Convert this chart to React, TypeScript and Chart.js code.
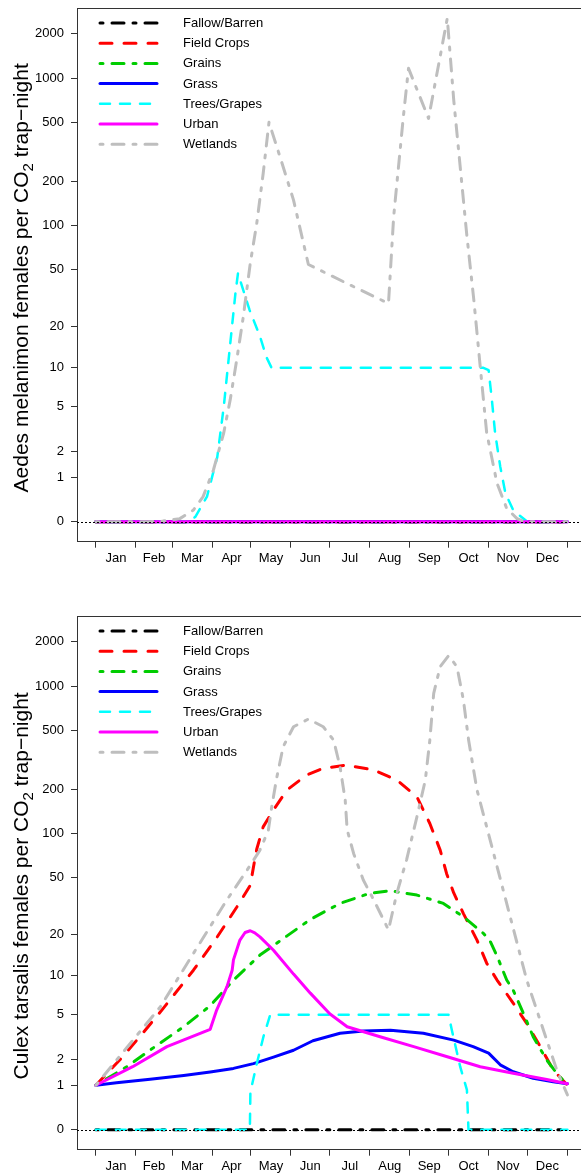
import React, { useEffect, useRef } from 'react';
import { Chart, registerables } from 'chart.js';

Chart.register(...registerables);

const FONT = '"Liberation Sans", Arial, Helvetica, sans-serif';
const AXIS_COLOR = '#333333';

// ---- series meta ----
const SERIES_LABELS = ['Fallow/Barren', 'Field Crops', 'Grains', 'Grass', 'Trees/Grapes', 'Urban', 'Wetlands'];
const SERIES_COLORS = ['#000000', '#FF0000', '#00CD00', '#0000FF', '#00FFFF', '#FF00FF', '#BEBEBE'];
const SERIES_WIDTHS = [3, 3, 3, 3, 2.5, 3, 3];
const SERIES_DASHES = [[3, 9, 12, 9], [12, 12], [3, 9, 12, 9], [], [10, 10], [], [3, 9, 12, 9]];

// ---- axes ----
const MONTHS = ['Jan', 'Feb', 'Mar', 'Apr', 'May', 'Jun', 'Jul', 'Aug', 'Sep', 'Oct', 'Nov', 'Dec'];
const MONTH_STARTS = [0, 31, 59, 90, 120, 151, 181, 212, 243, 273, 304, 334, 365];
const Y_TICK_VALUES = [0, 1, 2, 5, 10, 20, 50, 100, 200, 500, 1000, 2000];

const TOP_TITLE = ['Aedes melanimon females per CO', '2', ' trap\u2212night'];
const BOTTOM_TITLE = ['Culex tarsalis females per CO', '2', ' trap\u2212night'];

// ---- Aedes melanimon (top panel) ----
const aedesFallowDays = [0, 365];
const aedesFallowVals = [0, 0];
const aedesFieldDays = [0, 365];
const aedesFieldVals = [0, 0];
const aedesGrainsDays = [0, 365];
const aedesGrainsVals = [0, 0];
const aedesGrassDays = [0, 365];
const aedesGrassVals = [0, 0];
const aedesTreesDays = [0, 72, 77, 86, 94, 99, 104, 108, 110, 119, 127, 132, 136, 300, 304, 306.5, 309, 313, 317, 323, 328, 334, 365];
const aedesTreesVals = [0, 0, 0.08, 0.48, 1.75, 5.0, 15, 34, 47, 26, 17, 12, 10, 10, 9.6, 5.7, 3.0, 1.36, 0.56, 0.2, 0.1, 0, 0];
const aedesUrbanDays = [0, 365];
const aedesUrbanVals = [0, 0];
const aedesWetDays = [0, 40, 52, 65, 75.5, 83, 91, 99, 104, 109, 114, 119.5, 124.5, 129.5, 134, 142.5, 153, 164.5, 202, 226.5, 230.5, 235.5, 238, 242, 257.5, 272, 277, 282, 287, 292.5, 297.5, 302.5, 310.5, 318, 326, 332, 365];
const aedesWetVals = [0, 0, 0.01, 0.05, 0.2, 0.48, 1.24, 3.0, 5.7, 11.4, 23, 55, 103, 226, 503, 294, 149, 54, 37, 29, 115, 326, 549, 1168, 535, 2547, 712, 251, 88, 31, 10.2, 3.0, 0.82, 0.23, 0.05, 0, 0];

// ---- Culex tarsalis (bottom panel) ----
const culexFallowDays = [0, 365];
const culexFallowVals = [0, 0];
const culexFieldDays = [0, 19, 34, 52, 75.5, 94, 109, 119.5, 122, 124.5, 129.5, 137.5, 148, 163, 176, 194, 215, 233, 248.5, 258.5, 266.5, 271.5, 277, 284.5, 295, 302.5, 310.5, 323, 333.5, 344, 354, 365];
const culexFieldVals = [1, 2.0, 3.26, 5.6, 11, 19.2, 31, 44, 59, 78, 111, 145, 198, 250, 278, 292, 271, 231, 178, 117, 77, 53, 39, 28, 18.2, 12.4, 9.3, 6.2, 4.25, 2.65, 1.54, 1];
const culexGrainsDays = [0, 24, 42, 68, 88.5, 106.5, 127, 148, 166, 189, 212, 228, 248.5, 269, 284.5, 300, 305, 310.5, 318, 323, 331, 338.5, 349, 357, 365];
const culexGrainsVals = [1, 1.67, 2.46, 3.98, 5.9, 9.3, 14.2, 19.5, 25.5, 33, 38.8, 40.4, 37.7, 33, 26.6, 20.3, 18, 14, 9.3, 7.8, 5.1, 3.26, 1.96, 1.4, 1];
const culexGrassDays = [0, 16, 42, 68, 88.5, 106.5, 122, 137.5, 153, 168, 189, 207, 228, 253.5, 277, 292, 304, 313, 323, 338.5, 354, 365];
const culexGrassVals = [1.0, 1.08, 1.2, 1.33, 1.46, 1.6, 1.8, 2.1, 2.45, 3.0, 3.5, 3.65, 3.72, 3.5, 3.04, 2.65, 2.3, 1.75, 1.47, 1.23, 1.11, 1.05];
const culexTreesDays = [0, 119.2, 119.6, 124.6, 129.7, 135, 273, 275.6, 282, 287.2, 288.4, 365];
const culexTreesVals = [0, 0, 0.8, 1.81, 3.26, 5, 5, 3.7, 1.67, 0.86, 0, 0];
const culexUrbanDays = [0, 28.5, 55, 88.5, 93.5, 101.5, 105.5, 106.5, 111.5, 115.5, 119.5, 123, 127, 137.5, 153, 166, 181, 194.5, 220, 246, 272, 297.5, 323, 349, 365];
const culexUrbanVals = [1.0, 1.67, 2.65, 3.78, 5.45, 8.3, 11, 13.1, 18.2, 20.6, 21.2, 20.5, 19.2, 15.4, 10.3, 7.4, 5.1, 3.98, 3.26, 2.65, 2.12, 1.67, 1.41, 1.19, 1.05];
const culexWetDays = [0, 50, 75.5, 101.5, 117, 127, 133.5, 136, 140, 145, 153, 164.5, 176, 184, 189, 193, 194.5, 199.5, 207, 215, 226.5, 233, 240.5, 248.5, 255, 258.5, 261.5, 266.5, 273, 279.5, 284.5, 288.5, 295, 302.5, 333.5, 346.5, 357, 365];
const culexWetVals = [1, 5.8, 14.6, 35, 56, 77, 105, 150, 240, 390, 532, 600, 532, 432, 285, 169, 106, 73, 48, 35, 21.5, 39, 66, 130, 231, 432, 896, 1357, 1610, 1357, 806, 432, 198, 111, 9.3, 3.7, 1.5, 0.72];

const TOP_DAYS = [aedesFallowDays, aedesFieldDays, aedesGrainsDays, aedesGrassDays, aedesTreesDays, aedesUrbanDays, aedesWetDays];
const TOP_VALS = [aedesFallowVals, aedesFieldVals, aedesGrainsVals, aedesGrassVals, aedesTreesVals, aedesUrbanVals, aedesWetVals];
const BOTTOM_DAYS = [culexFallowDays, culexFieldDays, culexGrainsDays, culexGrassDays, culexTreesDays, culexUrbanDays, culexWetDays];
const BOTTOM_VALS = [culexFallowVals, culexFieldVals, culexGrainsVals, culexGrassVals, culexTreesVals, culexUrbanVals, culexWetVals];

const MONTH_MIDS = MONTHS.map((_, i) => (MONTH_STARTS[i] + MONTH_STARTS[i + 1]) / 2);
const tf = (v: number) => Math.log10(v + 1);

const CANVAS_W = 581;
const CANVAS_H = 580;

const decorPlugin = {
  id: 'decor',
  afterDatasetsDraw(chart: any) {
    const { ctx, chartArea: a } = chart;
    const y0 = Math.round(chart.scales.y.getPixelForValue(0)) + 0.5;
    ctx.save();
    ctx.strokeStyle = '#000';
    ctx.lineWidth = 1;
    ctx.setLineDash([2, 2]);
    ctx.beginPath();
    ctx.moveTo(a.left, y0);
    ctx.lineTo(a.right, y0);
    ctx.stroke();
    ctx.restore();
  },
  afterDraw(chart: any, _args: any, opts: any) {
    const { ctx, chartArea: a } = chart;
    ctx.save();
    // top frame
    ctx.strokeStyle = AXIS_COLOR;
    ctx.lineWidth = 1;
    ctx.beginPath();
    ctx.moveTo(a.left, Math.round(a.top) + 0.5);
    ctx.lineTo(a.right, Math.round(a.top) + 0.5);
    ctx.stroke();

    // legend
    chart.data.datasets.forEach((ds: any, i: number) => {
      const y = a.top + 15 + i * 20.2;
      ctx.save();
      ctx.strokeStyle = ds.borderColor;
      ctx.lineWidth = ds.borderWidth;
      ctx.lineCap = 'round';
      ctx.setLineDash(ds.borderDash || []);
      ctx.beginPath();
      ctx.moveTo(a.left + 23, y);
      ctx.lineTo(a.left + 80, y);
      ctx.stroke();
      ctx.restore();
      ctx.fillStyle = '#000';
      ctx.font = '13px ' + FONT;
      ctx.textBaseline = 'middle';
      ctx.textAlign = 'left';
      ctx.fillText(ds.label, a.left + 106, y + 0.5);
    });

    // y title with subscript
    const parts: string[] = opts.title;
    const sizes = [21, 15, 21];
    const shifts = [0, 5, 0];
    let total = 0;
    const widths = parts.map((p, i) => {
      ctx.font = sizes[i] + 'px ' + FONT;
      const w = ctx.measureText(p).width;
      total += w;
      return w;
    });
    const cy = (a.top + a.bottom) / 2 + opts.titleShift;
    ctx.translate(opts.titleX, cy);
    ctx.rotate(-Math.PI / 2);
    ctx.fillStyle = '#000';
    ctx.textBaseline = 'alphabetic';
    ctx.textAlign = 'left';
    let x = -total / 2;
    parts.forEach((p, i) => {
      ctx.font = sizes[i] + 'px ' + FONT;
      ctx.fillText(p, x, shifts[i]);
      x += widths[i];
    });
    ctx.restore();
  },
};

function makeConfig(days: number[][], vals: number[][], title: string[]) {
  const datasets = SERIES_LABELS.map((label, i) => ({
    label,
    data: days[i].map((d, j) => ({ x: d, y: tf(vals[i][j]) })),
    borderColor: SERIES_COLORS[i],
    backgroundColor: SERIES_COLORS[i],
    borderWidth: SERIES_WIDTHS[i],
    borderDash: SERIES_DASHES[i],
    borderCapStyle: 'round',
    borderJoinStyle: 'round',
    pointRadius: 0,
    pointHoverRadius: 0,
    tension: 0,
    fill: false,
    order: SERIES_LABELS.length - i,
  }));
  const allXTicks = [...MONTH_STARTS, ...MONTH_MIDS].sort((p, q) => p - q);
  return {
    type: 'line',
    data: { datasets },
    plugins: [decorPlugin],
    options: {
      responsive: false,
      animation: false,
      events: [],
      layout: { padding: { top: 8, left: 0, right: 0, bottom: 8.3 } },
      plugins: {
        legend: { display: false },
        tooltip: { enabled: false },
        decor: { title, titleX: 28, titleShift: 3 },
      },
      scales: {
        x: {
          type: 'linear',
          min: -14.6,
          max: 375.5,
          afterBuildTicks: (s: any) => {
            s.ticks = allXTicks.map((v) => ({ value: v }));
          },
          afterFit: (s: any) => {
            s.height = 30;
            s.paddingLeft = 0;
            s.paddingRight = 0;
          },
          ticks: {
            autoSkip: false,
            maxRotation: 0,
            padding: 3,
            color: '#000',
            font: { family: FONT, size: 13 },
            callback: (v: number) => {
              const idx = MONTH_MIDS.findIndex((m) => Math.abs(m - v) < 1e-6);
              return idx >= 0 ? MONTHS[idx] : '';
            },
          },
          grid: {
            drawOnChartArea: false,
            tickLength: 6,
            tickColor: (c: any) =>
              c.tick && MONTH_STARTS.includes(c.tick.value) ? AXIS_COLOR : 'rgba(0,0,0,0)',
          },
          border: { display: true, color: AXIS_COLOR, width: 1 },
        },
        y: {
          type: 'linear',
          min: -0.135,
          max: 3.476,
          afterBuildTicks: (s: any) => {
            s.ticks = Y_TICK_VALUES.map((v) => ({ value: tf(v) }));
          },
          afterFit: (s: any) => {
            s.width = 77;
            s.paddingTop = 0;
            s.paddingBottom = 0;
          },
          ticks: {
            autoSkip: false,
            padding: 7,
            color: '#000',
            font: { family: FONT, size: 13 },
            callback: (_v: number, i: number) => String(Y_TICK_VALUES[i]),
          },
          grid: { drawOnChartArea: false, tickLength: 6, tickColor: AXIS_COLOR },
          border: { display: true, color: AXIS_COLOR, width: 1 },
        },
      },
    },
  };
}

function Panel({ days, vals, title, top }: { days: number[][]; vals: number[][]; title: string[]; top: number }) {
  const ref = useRef<HTMLCanvasElement>(null);
  useEffect(() => {
    if (!ref.current) return;
    const chart = new Chart(ref.current, makeConfig(days, vals, title) as any);
    return () => chart.destroy();
  }, []);
  return (
    <canvas
      ref={ref}
      width={CANVAS_W}
      height={CANVAS_H}
      style={{ position: 'absolute', left: 0, top, width: CANVAS_W, height: CANVAS_H }}
    />
  );
}

export default function App() {
  return (
    <div
      style={{
        position: 'absolute',
        left: 0,
        top: 0,
        width: 581,
        height: 1174,
        overflow: 'hidden',
        background: '#fff',
      }}
    >
      <Panel days={TOP_DAYS} vals={TOP_VALS} title={TOP_TITLE} top={0} />
      <Panel days={BOTTOM_DAYS} vals={BOTTOM_VALS} title={BOTTOM_TITLE} top={608} />
    </div>
  );
}
